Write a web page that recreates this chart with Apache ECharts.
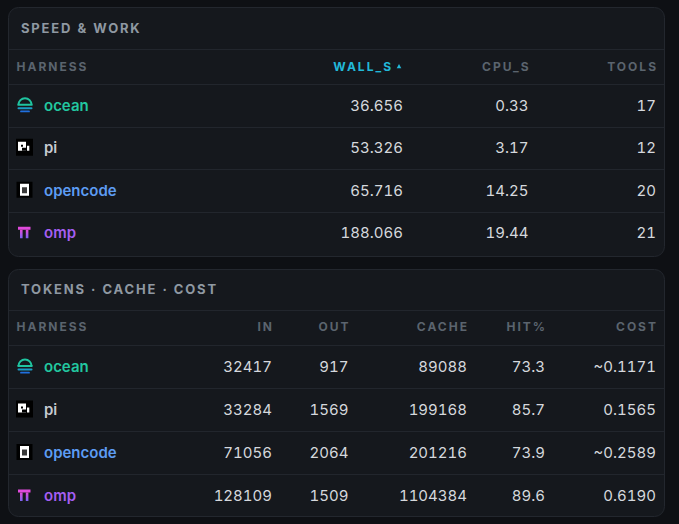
<!DOCTYPE html>
<html><head><meta charset="utf-8">
<script src="https://cdn.jsdelivr.net/npm/echarts@6/dist/echarts.min.js"></script>
<style>html,body{margin:0;padding:0;background:#0e1014;}#c{width:679px;height:524px;}#c svg text{font-variant-numeric:tabular-nums;}</style>
</head><body><div id="c"></div>
<script>
// ---- data ----
const harnesses = ['ocean', 'pi', 'opencode', 'omp'];
const tableTitles = ['SPEED & WORK', 'TOKENS · CACHE · COST'];
const speedHeaders = ['HARNESS', 'WALL_S', 'CPU_S', 'TOOLS'];
const wallS = [36.656, 53.326, 65.716, 188.066];
const cpuS = [0.33, 3.17, 14.25, 19.44];
const tools = [17, 12, 20, 21];
const tokenHeaders = ['HARNESS', 'IN', 'OUT', 'CACHE', 'HIT%', 'COST'];
const tokensIn = [32417, 33284, 71056, 128109];
const tokensOut = [917, 1569, 2064, 1509];
const cacheTok = [89088, 199168, 201216, 1104384];
const hitPct = [73.3, 85.7, 73.9, 89.6];
const cost = [0.1171, 0.1565, 0.2589, 0.6190];
const costEstimated = [true, false, true, false];

// ---- styles / layout ----
const FONT = 'Inter, "Noto Sans", sans-serif';
const nameColors = { ocean: '#22c7a0', pi: '#c6cad0', opencode: '#5d9cf3', omp: '#a45ef1' };
const numColor = '#d5d8dd';
const headColor = '#5b646e';
const titleColor = '#8f98a2';
const lineColor = '#22262d';
const sortColor = '#22b9d9';
const HEAD_LS = 2, TITLE_LS = 1.8;

const tables = [
  {
    title: tableTitles[0], headers: speedHeaders, colX: [16.5, 403, 528.5, 656], sortCol: 1,
    cells: [
      i => wallS[i].toFixed(3),
      i => cpuS[i].toFixed(2),
      i => String(tools[i])
    ]
  },
  {
    title: tableTitles[1], headers: tokenHeaders, colX: [16.5, 272, 348.5, 467, 545, 656], sortCol: -1,
    cells: [
      i => String(tokensIn[i]),
      i => String(tokensOut[i]),
      i => String(cacheTok[i]),
      i => hitPct[i].toFixed(1),
      i => (costEstimated[i] ? '~' : '') + cost[i].toFixed(4)
    ]
  }
];

function rect(x, y, w, h, fill) {
  return { type: 'rect', shape: { x, y, width: w, height: h }, style: { fill } };
}
function icon(name, cx, cy) {
  if (name === 'ocean') {
    return [
      { type: 'arc', shape: { cx, cy: cy - 0.5, r: 6.5, startAngle: Math.PI, endAngle: Math.PI * 2, clockwise: true }, style: { stroke: '#1fc4a0', lineWidth: 2, fill: null } },
      { type: 'line', shape: { x1: cx - 7.5, y1: cy - 0.5, x2: cx + 7.5, y2: cy - 0.5 }, style: { stroke: '#1fc4a0', lineWidth: 2 } },
      { type: 'line', shape: { x1: cx - 6.5, y1: cy + 3, x2: cx + 6.5, y2: cy + 3 }, style: { stroke: '#1b9cc4', lineWidth: 2, lineCap: 'round' } },
      { type: 'line', shape: { x1: cx - 4, y1: cy + 6.2, x2: cx + 4, y2: cy + 6.2 }, style: { stroke: '#2070e0', lineWidth: 1.8, lineCap: 'round' } }
    ];
  }
  if (name === 'pi') {
    return [
      rect(cx - 9, cy - 9, 17, 17, '#000000'),
      rect(cx - 7, cy - 6, 8, 9, '#ffffff'),
      rect(cx - 4, cy - 3, 2, 2, '#000000'),
      rect(cx - 3, cy, 4, 3, '#000000'),
      rect(cx + 2, cy - 2, 2.3, 5, '#ffffff')
    ];
  }
  if (name === 'opencode') {
    return [
      rect(cx - 8.5, cy - 8.5, 16, 16, '#000000'),
      rect(cx - 5, cy - 6.5, 9, 12, '#ffffff'),
      rect(cx - 3, cy - 3, 5, 6, '#3a3a3a')
    ];
  }
  const grad = new echarts.graphic.LinearGradient(0, 0, 0, 1, [{ offset: 0, color: '#e64ad8' }, { offset: 1, color: '#7a63f2' }]);
  return [
    { type: 'rect', shape: { x: cx - 7, y: cy - 6, width: 12.5, height: 3 }, style: { fill: '#e04adc' } },
    { type: 'rect', shape: { x: cx - 5, y: cy - 3, width: 2.6, height: 8.5 }, style: { fill: grad } },
    { type: 'rect', shape: { x: cx + 0.8, y: cy - 3, width: 2.6, height: 8.5 }, style: { fill: grad } }
  ];
}
function txt(text, x, y, opt) {
  return {
    type: 'text', silent: true,
    style: Object.assign({ text, x, y, font: FONT, fontFamily: FONT, fontSize: 15, fill: numColor, align: 'right', verticalAlign: 'middle' }, opt || {})
  };
}

function makeRender(t) {
  return function (params, api) {
    const r = api.value(0);
    const X = v => api.coord([v, 0])[0];
    const Y = v => api.coord([0, v])[1];
    const lineAt = v => {
      const y = Math.round(Y(v)) + 0.5;
      return { type: 'line', silent: true, shape: { x1: X(9), y1: y, x2: X(664), y2: y }, style: { stroke: lineColor, lineWidth: 1 } };
    };
    const children = [];
    if (r < 0) {
      children.push(lineAt(-1.32));
      children.push(lineAt(-0.5));
      children.push(txt(t.title, X(21), Y(-1.81), { align: 'left', fontSize: 13, fontWeight: 'bold', fill: titleColor }));
      const hy = Y(-0.92);
      t.headers.forEach((h, i) => {
        if (i === 0) {
          children.push(txt(h, X(t.colX[0]), hy, { align: 'left', fontSize: 12, fontWeight: 'bold', fill: headColor }));
        } else if (i === t.sortCol) {
          children.push(txt(h, X(t.colX[i] - 12 + HEAD_LS), hy, { fontSize: 12, fontWeight: 'bold', fill: sortColor }));
          const tx = X(t.colX[i] - 4);
          children.push({ type: 'polygon', silent: true, shape: { points: [[tx - 2.3, hy + 2], [tx + 2.3, hy + 2], [tx, hy - 2.2]] }, style: { fill: sortColor } });
        } else {
          children.push(txt(h, X(t.colX[i] + HEAD_LS), hy, { fontSize: 12, fontWeight: 'bold', fill: headColor }));
        }
      });
    } else {
      const y = Y(r);
      if (r > 0) children.push(lineAt(r - 0.5));
      const name = harnesses[r];
      icon(name, X(25), y).forEach(c => { c.silent = true; children.push(c); });
      children.push(txt(name, X(44), y, { align: 'left', fontWeight: 600, fill: nameColors[name] }));
      t.cells.forEach((f, j) => children.push(txt(f(r), X(t.colX[j + 1]), y)));
    }
    return { type: 'group', children };
  };
}

const rowData = [[-1], [0], [1], [2], [3]];

const chart = echarts.init(document.getElementById('c'), null, { renderer: 'svg' });
chart.setOption({
  backgroundColor: '#0e1014',
  animation: false,
  graphic: [
    { type: 'rect', silent: true, z: -10, shape: { x: 8.5, y: 7.5, width: 656, height: 249, r: 10 }, style: { fill: '#15181d', stroke: '#23272e', lineWidth: 1 } },
    { type: 'rect', silent: true, z: -10, shape: { x: 8.5, y: 269.5, width: 656, height: 247, r: 10 }, style: { fill: '#15181d', stroke: '#23272e', lineWidth: 1 } }
  ],
  grid: [
    { left: 0, right: 0, top: 84, height: 170 },
    { left: 0, right: 0, top: 345, height: 172 }
  ],
  xAxis: [
    { type: 'value', gridIndex: 0, min: 0, max: 679, show: false },
    { type: 'value', gridIndex: 1, min: 0, max: 679, show: false }
  ],
  yAxis: [
    { type: 'value', gridIndex: 0, min: -0.5, max: 3.5, inverse: true, show: false },
    { type: 'value', gridIndex: 1, min: -0.5, max: 3.5, inverse: true, show: false }
  ],
  series: tables.map((t, k) => ({
    type: 'custom', xAxisIndex: k, yAxisIndex: k, clip: false, silent: true,
    encode: { y: 0 }, data: rowData, renderItem: makeRender(t)
  }))
});

function applySpacing() {
  const heads = new Set(speedHeaders.concat(tokenHeaders));
  const titles = new Set(tableTitles);
  document.querySelectorAll('#c svg text').forEach(el => {
    const s = el.textContent;
    el.style.fontVariantNumeric = 'tabular-nums';
    if (titles.has(s)) el.setAttribute('letter-spacing', TITLE_LS);
    else if (heads.has(s)) el.setAttribute('letter-spacing', HEAD_LS);
  });
}
chart.on('finished', applySpacing);
applySpacing();
</script>
</body></html>
